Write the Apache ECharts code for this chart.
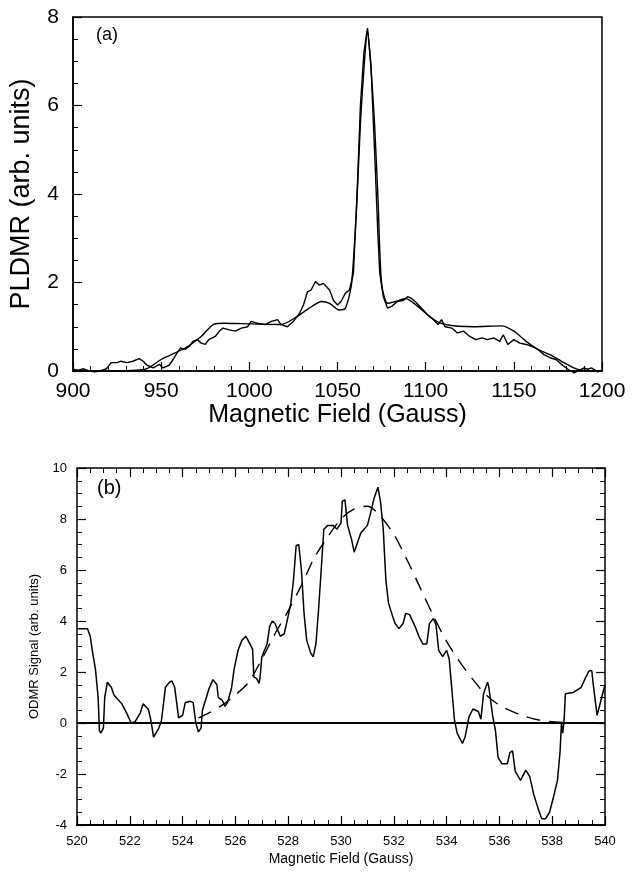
<!DOCTYPE html>
<html><head><meta charset="utf-8">
<script src="https://cdn.jsdelivr.net/npm/echarts@6/dist/echarts.min.js"></script>
<style>html,body{margin:0;padding:0;background:#fff}#c{width:634px;height:873px}</style>
</head><body><div id="c"></div>
<script>
// Panel (a): PLDMR
const pldmrExpField = [900,903,906,909,912.5,916,919,921.6,925,927,930.7,934,937.5,939.8,942,945.5,949,951,954.5,956.8,959,961,963.6,966,968,970.5,972.7,975,977,980.7,983,985,988.6,992,995.5,999,1001,1004.5,1009,1012.5,1016,1018,1021.6,1025,1028.4,1030.7,1033,1035,1037.5,1039.8,1042,1045.5,1047.7,1050,1052,1054.5,1056.8,1059,1061,1063,1065,1067,1069,1071,1073,1074,1076,1078.4,1080.7,1084,1087.5,1089.8,1092,1094,1097.7,1101,1104.5,1107,1109,1111,1114.8,1118,1121.6,1125,1128.4,1132,1135,1138.6,1142,1144,1146.6,1150,1153.4,1157,1160,1163.6,1167,1170.5,1174,1177,1180.7,1184,1187.5,1189.8,1192,1194,1197.7,1200];
const pldmrExp = [0.04,0.02,0.05,0.0,-0.02,0.01,0.05,0.19,0.19,0.22,0.19,0.22,0.28,0.22,0.13,0.07,0.15,0.07,0.13,0.26,0.41,0.52,0.49,0.56,0.67,0.71,0.63,0.6,0.71,0.78,0.9,0.97,0.93,0.9,0.97,1.0,1.12,1.08,1.05,1.12,1.16,1.05,1.0,1.12,1.3,1.49,1.79,1.83,2.02,1.94,1.98,1.83,1.6,1.49,1.57,1.76,1.83,2.2,3.9,6.0,7.2,7.75,6.9,5.0,3.0,2.2,1.68,1.42,1.46,1.57,1.6,1.68,1.64,1.57,1.42,1.27,1.16,1.05,1.16,1.0,0.97,0.86,0.9,0.78,0.71,0.75,0.71,0.75,0.67,0.82,0.6,0.71,0.63,0.6,0.56,0.49,0.37,0.3,0.26,0.15,0.04,-0.04,0.02,0.07,0.04,0.07,-0.02,0.02];
const pldmrFitField = [900,920,941,950,963.6,972.7,979.5,986,995.5,1018,1027,1034,1041,1045.5,1051,1054.5,1058,1061,1063,1065,1067,1069,1071,1073,1075,1078.4,1083,1088.6,1095.5,1104.5,1111,1127,1143,1150,1157,1163.6,1170.5,1177,1184,1188.6,1200];
const pldmrFit = [0,0,0.04,0.26,0.52,0.78,1.05,1.08,1.07,1.05,1.23,1.42,1.57,1.53,1.38,1.42,1.98,3.85,5.6,6.84,7.7,6.84,5.6,3.85,1.98,1.53,1.57,1.64,1.46,1.16,1.05,1.0,1.02,0.9,0.67,0.49,0.37,0.22,0.07,0.02,0];

// Panel (b): ODMR
const odmrField = [520,520.4,520.5,520.6,520.7,520.8,520.85,520.9,521.0,521.05,521.15,521.3,521.4,521.7,521.9,522.05,522.2,522.4,522.5,522.7,522.8,522.9,523.1,523.2,523.35,523.5,523.6,523.7,523.85,524.0,524.1,524.3,524.4,524.5,524.6,524.7,524.75,524.9,525.0,525.15,525.3,525.35,525.5,525.6,525.7,525.85,525.95,526.1,526.25,526.4,526.55,526.65,526.7,526.8,526.9,526.95,527.0,527.2,527.3,527.4,527.5,527.6,527.7,527.85,528.0,528.1,528.2,528.3,528.4,528.5,528.6,528.7,528.85,528.95,529.05,529.15,529.25,529.35,529.5,529.7,529.85,530.0,530.05,530.15,530.25,530.4,530.5,530.6,530.75,531.0,531.1,531.25,531.4,531.5,531.6,531.7,531.8,531.95,532.05,532.2,532.35,532.45,532.6,532.8,532.95,533.1,533.25,533.35,533.5,533.6,533.7,533.85,534.0,534.1,534.2,534.3,534.4,534.6,534.7,534.85,535.0,535.2,535.3,535.4,535.55,535.6,535.75,535.85,535.95,536.1,536.3,536.4,536.5,536.6,536.8,537.0,537.15,537.3,537.45,537.6,537.75,537.9,538.05,538.2,538.3,538.35,538.4,538.45,538.5,538.8,539.1,539.25,539.4,539.5,539.55,539.7,539.85,540.0];
const odmrSignal = [3.7,3.7,3.4,2.7,2.1,1.0,-0.3,-0.4,-0.2,1.0,1.6,1.4,1.1,0.75,0.35,0.0,0.05,0.4,0.75,0.55,0.1,-0.55,-0.2,0.1,1.4,1.6,1.65,1.4,0.2,0.3,0.8,0.85,0.8,0.0,-0.35,-0.2,0.5,1.0,1.35,1.7,1.5,1.0,0.9,0.65,0.8,1.35,2.1,2.85,3.25,3.4,3.1,2.9,1.8,1.75,1.55,1.95,2.6,3.1,3.8,4.0,3.9,3.65,3.4,3.5,4.2,4.7,5.6,6.95,7.0,6.0,4.3,3.25,2.75,2.6,3.1,4.45,6.0,7.6,7.75,7.75,7.6,7.85,8.7,8.75,7.75,7.2,6.7,7.0,7.45,7.75,8.15,8.8,9.25,8.65,7.6,5.6,4.7,4.2,3.9,3.7,3.9,4.3,4.25,3.8,3.4,3.1,3.1,3.9,4.1,3.85,2.85,2.6,2.85,2.5,1.3,0.1,-0.4,-0.8,-0.55,0.25,0.55,0.45,0.15,1.15,1.6,1.4,0.25,-0.3,-1.35,-1.6,-1.6,-1.15,-1.1,-1.9,-2.25,-1.85,-2.1,-2.8,-3.3,-3.75,-3.75,-3.5,-2.9,-2.25,-1.1,0.0,-0.4,0.1,1.15,1.2,1.4,1.75,2.05,2.05,1.55,0.3,0.9,1.5];
const odmrFitField = [524.6,525,525.5,526,526.5,527,527.5,528,528.5,529,529.5,530,530.5,531,531.5,532,532.5,533,533.5,534,534.5,535,535.5,536,536.5,537,537.5,538,538.4];
const odmrFit = [0.2,0.4,0.7,1.1,1.6,2.5,3.5,4.4,5.4,6.5,7.3,8.0,8.4,8.5,8.1,7.4,6.4,5.3,4.2,3.2,2.4,1.7,1.1,0.7,0.45,0.25,0.12,0.05,0.02];

const zip = (a, b) => a.map((x, i) => [x, b[i]]);
const FONT = 'Liberation Sans, Arial, sans-serif';
const black = '#000';
const plain = v => String(v);

function mkAxisCommon(extra) {
  return Object.assign({
    axisLine: { show: true, onZero: false, lineStyle: { color: black, width: 1.5 } },
    splitLine: { show: false },
    axisTick: { show: true, inside: true, length: 9, lineStyle: { color: black, width: 1.2 } },
    minorTick: { show: true, length: 5, lineStyle: { color: black, width: 1 } },
  }, extra);
}

const chart = echarts.init(document.getElementById('c'), null, { renderer: 'canvas' });
chart.setOption({
  animation: false,
  backgroundColor: '#fff',
  textStyle: { fontFamily: FONT },
  grid: [
    { left: 73, right: 32, top: 17, height: 354, show: true, borderColor: black, borderWidth: 1.5, backgroundColor: 'transparent' },
    { left: 77, right: 29, top: 468, height: 357, show: false }
  ],
  xAxis: [
    mkAxisCommon({ gridIndex: 0, type: 'value', min: 900, max: 1200, interval: 50, position: 'bottom',
      minorTick: { show: true, splitNumber: 5, length: 5, lineStyle: { color: black, width: 1 } },
      axisLabel: { color: black, fontSize: 21, margin: 10, fontFamily: FONT, formatter: plain },
      name: 'Magnetic Field (Gauss)', nameLocation: 'middle', nameGap: 26,
      nameTextStyle: { color: black, fontSize: 25, fontFamily: FONT } }),
    mkAxisCommon({ gridIndex: 1, type: 'value', min: 520, max: 540, interval: 2, position: 'bottom',
      axisLine: { show: true, onZero: false, lineStyle: { color: black, width: 2 } },
      minorTick: { show: true, splitNumber: 4, length: 5, lineStyle: { color: black, width: 1 } },
      axisLabel: { color: black, fontSize: 13, margin: 10, fontFamily: FONT, formatter: plain },
      name: 'Magnetic Field (Gauss)', nameLocation: 'middle', nameGap: 27,
      nameTextStyle: { color: black, fontSize: 14, fontFamily: FONT } }),
    mkAxisCommon({ gridIndex: 1, type: 'value', min: 520, max: 540, interval: 2, position: 'top',
      minorTick: { show: true, splitNumber: 4, length: 5, lineStyle: { color: black, width: 1 } },
      axisLabel: { show: false } })
  ],
  yAxis: [
    mkAxisCommon({ gridIndex: 0, type: 'value', min: 0, max: 8, interval: 2, position: 'left',
      minorTick: { show: true, splitNumber: 4, length: 5, lineStyle: { color: black, width: 1 } },
      axisLabel: { color: black, fontSize: 21, margin: 14, fontFamily: FONT, formatter: plain },
      name: 'PLDMR (arb. units)', nameLocation: 'middle', nameGap: 38,
      nameTextStyle: { color: black, fontSize: 27, fontFamily: FONT } }),
    mkAxisCommon({ gridIndex: 1, type: 'value', min: -4, max: 10, interval: 2, position: 'left',
      minorTick: { show: true, splitNumber: 4, length: 5, lineStyle: { color: black, width: 1 } },
      axisLabel: { color: black, fontSize: 13, margin: 10, fontFamily: FONT, formatter: plain },
      name: 'ODMR Signal (arb. units)', nameLocation: 'middle', nameGap: 36,
      nameTextStyle: { color: black, fontSize: 13, fontFamily: FONT } }),
    mkAxisCommon({ gridIndex: 1, type: 'value', min: -4, max: 10, interval: 2, position: 'right',
      minorTick: { show: true, splitNumber: 4, length: 5, lineStyle: { color: black, width: 1 } },
      axisLabel: { show: false } })
  ],
  series: [
    { type: 'line', xAxisIndex: 0, yAxisIndex: 0, data: zip(pldmrExpField, pldmrExp), showSymbol: false,
      lineStyle: { color: black, width: 1.4 }, clip: false },
    { type: 'line', xAxisIndex: 0, yAxisIndex: 0, data: zip(pldmrFitField, pldmrFit), showSymbol: false, smooth: 0.25,
      lineStyle: { color: black, width: 1.4 }, clip: false },
    { type: 'line', xAxisIndex: 1, yAxisIndex: 1, data: zip(odmrField, odmrSignal), showSymbol: false,
      lineStyle: { color: black, width: 1.5 },
      markLine: { silent: true, symbol: ['none', 'none'], label: { show: false },
        lineStyle: { color: black, width: 2, type: 'solid' }, data: [{ yAxis: 0 }] } },
    { type: 'line', xAxisIndex: 1, yAxisIndex: 1, data: zip(odmrFitField, odmrFit), showSymbol: false, smooth: 0.3,
      lineStyle: { color: black, width: 1.4, type: [14, 9] } }
  ],
  graphic: [
    { type: 'text', left: 96, top: 26, style: { text: '(a)', font: '18px ' + FONT, fill: black } },
    { type: 'text', left: 97, top: 478, style: { text: '(b)', font: '20px ' + FONT, fill: black } }
  ]
});
</script></body></html>
